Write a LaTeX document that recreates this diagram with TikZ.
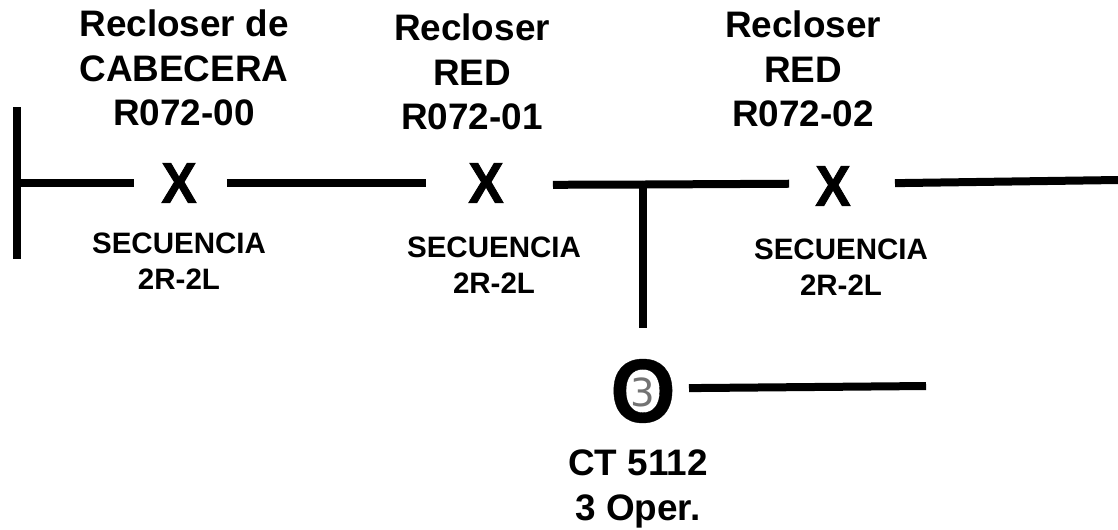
\documentclass[tikz,border=0pt]{standalone}
\usepackage{fontspec}
\setmainfont{Liberation Sans}
\newfontfamily\digitfont{DejaVu Sans}
\newfontfamily\heavyfont[BoldFeatures={FakeBold=1.5}]{Liberation Sans}
\newfontfamily\ringfont[BoldFeatures={FakeBold=0.4}]{Liberation Sans}
\usetikzlibrary{calc}
\begin{document}
\begin{tikzpicture}[x=0.02cm,y=-0.02cm,
                    line/.style={line width=0.16cm},
                    ex node/.style={inner sep=0pt,font=\fontsize{30}{30}\selectfont\heavyfont\bfseries},
                    title node/.style={inner sep=0pt,align=center,font=\fontsize{21}{25.3}\selectfont\bfseries},
                    seq node/.style={inner sep=0pt,align=center,font=\fontsize{16.8}{20.5}\selectfont\bfseries}]
 \useasboundingbox (0,0) rectangle (1118,529);

 \node[ex node] (x1) at (179,183) {\scalebox{1}[1.08]{X}};
 \node[title node] (title1) at (184,68) {Recloser de\\CABECERA\\R072-00};
 \node[seq node] (seq1) at (179,261) {SECUENCIA\\2R-2L};

 \node[ex node] (x2) at (486,183) {\scalebox{1}[1.08]{X}};
 \node[title node] (title2) at (472,72) {Recloser\\RED\\R072-01};
 \node[seq node] (seq2) at (494,265) {SECUENCIA\\2R-2L};

 \node[ex node] (x3) at (833,186) {\scalebox{1}[1.08]{X}};
 \node[title node] (title3) at (803,69) {Recloser\\RED\\R072-02};
 \node[seq node] (seq3) at (841,267) {SECUENCIA\\2R-2L};

 \node[inner sep=0pt,font=\fontsize{45.5}{45.5}\selectfont\ringfont\bfseries] (ring) at (643,391) {\scalebox{1.05}[1.13]{O}};
 \node[inner sep=0pt,text=black!55,font=\fontsize{22}{22}\selectfont\digitfont] (three) at (643,392) {3};
 \node[title node] (ct) at (638,489) {CT 5112\\3 Oper.};

 \coordinate (bustop) at (17,107);
 \coordinate (busbottom) at (17,259);
 \coordinate (busmid) at (17,183);
 \coordinate (tap) at (643,184.5);
 \coordinate (lineend) at (1118,180);
 \coordinate (branchend) at (926,386);

 \draw[line] (bustop) -- (busbottom);
 \draw[line,shorten >=0.54cm] (busmid) -- (x1);
 \draw[line,shorten <=0.6cm,shorten >=0.84cm] (x1) -- (x2);
 \draw[line,shorten <=1.34cm] ($(x2)+(0,2)$) -- (tap);
 \draw[line,shorten >=0.88cm] (tap) -- ($(x3)+(0,-2.5)$);
 \draw[line,shorten <=1.24cm] ($(x3)+(0,-2)$) -- (lineend);
 \draw[line,shorten >=1.27cm] ($(tap)+(0,-4)$) -- (ring.center);
 \draw[line,shorten <=0.92cm] ($(ring)+(0,-2.5)$) -- (branchend);
\end{tikzpicture}
\end{document}
